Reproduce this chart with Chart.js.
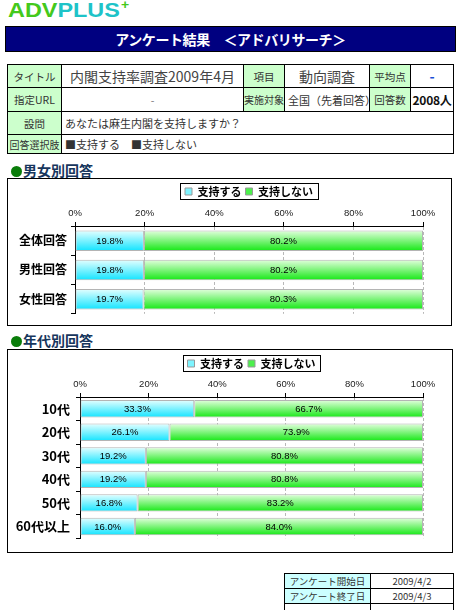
<!DOCTYPE html>
<html lang="ja">
<head>
<meta charset="utf-8">
<script src="https://cdn.jsdelivr.net/npm/chart.js@4.4.1/dist/chart.umd.min.js"></script>
<style>
* { box-sizing: border-box; }
body { margin:0; width:460px; height:610px; overflow:hidden; background:#fff; position:relative;
  font-family:"Noto Sans CJK JP", sans-serif; color:#222; }
.abs { position:absolute; }

/* ── HEADER ── */
#logo { left:8px; top:0; height:20px; font:bold 20px/20px "Liberation Sans", sans-serif;
  transform:scaleX(1.17); transform-origin:0 0; white-space:nowrap; }
#logo .a { color:#44c91c; }
#logo .p { color:#1ec3c8; }
#logo .plus { color:#44c91c; font-size:12px; position:relative; top:-8px; margin-left:1px; }
#banner { left:5px; top:26px; width:451px; height:26px; background:#000080; border:1px solid #000;
  color:#fff; font-weight:bold; font-size:14px; line-height:24px; text-align:center; letter-spacing:-0.4px; }

/* ── INFO TABLE ── */
table { border-collapse:collapse; table-layout:fixed; }
td { border:1px solid #000; padding:0; font-size:10.5px; color:#333; white-space:nowrap; overflow:hidden; }
td.lb { background:#ccffcc; text-align:center; }
#info { left:7px; top:64px; width:446px; }
#info td.big { font-size:14px; text-align:center; color:#444; }
#info td.txt { padding-left:3px; }

/* ── SECTIONS ── */
.sec { left:11px; height:16px; font-size:14px; font-weight:bold; color:#17365d; line-height:16px; }
.sec i { display:inline-block; width:11px; height:11px; border-radius:50%; background:#0a7d0a;
  vertical-align:-1px; margin-right:1px; }
.box { left:7px; border:1px solid #000; overflow:hidden; }
.box canvas { position:absolute; left:0; top:0; }

#dates { left:284px; top:573px; width:169px; }
#dates td { height:15px; font-size:9.5px; text-align:center; }
#dates td.lb { background:#ccffff; }
</style>
</head>
<body>

<div id="logo" class="abs"><span class="a">ADV</span><span class="p">PLUS</span><span class="plus">+</span></div>
<div id="banner" class="abs">アンケート結果　＜アドバリサーチ＞</div>

<table id="info" class="abs">
  <colgroup><col style="width:54px"><col style="width:182px"><col style="width:41px"><col style="width:85px"><col style="width:41px"><col style="width:43px"></colgroup>
  <tr style="height:23px"><td class="lb">タイトル</td><td class="big">内閣支持率調査2009年4月</td><td class="lb">項目</td><td class="big">動向調査</td><td class="lb">平均点</td><td class="big" style="color:#1a4fd6;font-weight:bold">-</td></tr>
  <tr style="height:24px"><td class="lb">指定URL</td><td style="text-align:center;color:#777">-</td><td class="lb" style="font-size:10px">実施対象</td><td class="txt" style="font-size:11px">全国（先着回答）</td><td class="lb">回答数</td><td style="text-align:center;font-weight:bold;font-size:12px;color:#111;letter-spacing:-0.3px">2008人</td></tr>
  <tr style="height:23px"><td class="lb">設問</td><td class="txt" colspan="5" style="font-size:11px">あなたは麻生内閣を支持しますか？</td></tr>
  <tr style="height:19px"><td class="lb" style="font-size:10px">回答選択肢</td><td class="txt" colspan="5" style="font-size:11px">■支持する　■支持しない</td></tr>
</table>

<div class="abs sec" style="top:162px"><i></i>男女別回答</div>
<div class="abs box" style="top:178px;width:445px;height:148px"><canvas id="genderChart" width="443" height="146"></canvas></div>

<div class="abs sec" style="top:332px"><i></i>年代別回答</div>
<div class="abs box" style="top:349px;width:446px;height:204px"><canvas id="ageChart" width="444" height="202"></canvas></div>

<table id="dates" class="abs">
  <colgroup><col style="width:86px"><col style="width:83px"></colgroup>
  <tr><td class="lb">アンケート開始日</td><td>2009/4/2</td></tr>
  <tr><td class="lb">アンケート終了日</td><td>2009/4/3</td></tr>
  <tr><td></td><td></td></tr>
</table>

<script>
/* ── DATA ── */
const seriesNames  = ["支持する", "支持しない"];
const genderLabels = ["全体回答", "男性回答", "女性回答"];
const genderYes    = [19.8, 19.8, 19.7];
const genderNo     = [80.2, 80.2, 80.3];
const ageLabels    = ["10代", "20代", "30代", "40代", "50代", "60代以上"];
const ageYes       = [33.3, 26.1, 19.2, 19.2, 16.8, 16.0];
const ageNo        = [66.7, 73.9, 80.8, 80.8, 83.2, 84.0];
const pctTicks     = [0, 20, 40, 60, 80, 100];

/* ── STYLE ── */
const CYAN  = ["#e6ffff", "#12e4ff"];
const GREEN = ["#e4ffdf", "#16e816"];
const SMALL = { family: "'Liberation Sans', sans-serif", size: 9.5 };

// vertical gradient per bar (pale top, strong bottom)
function barFill(colors, pct) {
  return c => {
    const ch = c.chart, y = ch.scales.y;
    if (!ch.chartArea || !y || c.dataIndex == null) return colors[1];
    const half = y.height / ch.data.labels.length * pct / 2;
    const cy = y.getPixelForValue(c.dataIndex);
    const g = ch.ctx.createLinearGradient(0, cy - half, 0, cy + half);
    g.addColorStop(0, colors[0]); g.addColorStop(1, colors[1]);
    return g;
  };
}

/* ── PLUGINS ── */
const barValues = {
  id: "barValues",
  afterDatasetsDraw(chart) {
    const ctx = chart.ctx;
    ctx.save();
    ctx.font = `${SMALL.size}px ${SMALL.family}`;
    ctx.fillStyle = "#000"; ctx.textAlign = "center"; ctx.textBaseline = "middle";
    chart.data.datasets.forEach((ds, i) => {
      chart.getDatasetMeta(i).data.forEach((bar, j) => {
        const { x, base, y } = bar.getProps(["x", "base", "y"], true);
        ctx.fillText(ds.data[j].toFixed(1) + "%", (x + base) / 2, y + 0.5);
      });
    });
    ctx.restore();
  }
};

// legend centred on the plot area (not the whole canvas), with a black frame
const legendFrame = {
  id: "legendFrame",
  afterLayout(chart) {
    const lg = chart.legend, ca = chart.chartArea;
    if (!lg) return;
    lg.left = ca.left; lg.right = ca.right; lg.width = ca.right - ca.left;
  },
  afterDraw(chart) {
    const hb = chart.legend && chart.legend.legendHitBoxes;
    if (!hb || !hb.length) return;
    const last = hb[hb.length - 1];
    const l = Math.round(hb[0].left - 5) + 0.5, r = Math.round(last.left + last.width + 5) + 0.5;
    const t = Math.round(hb[0].top - 3) + 0.5, b = Math.round(hb[0].top + hb[0].height + 2) + 0.5;
    const ctx = chart.ctx;
    ctx.save(); ctx.strokeStyle = "#000"; ctx.lineWidth = 1;
    ctx.strokeRect(l, t, r - l, b - t);
    ctx.restore();
  }
};

function makeStackChart(canvasId, labels, yes, no, o) {
  const ctx = document.getElementById(canvasId).getContext("2d");
  const common = { barPercentage: o.bar, categoryPercentage: 1, borderColor: "#b4b4b4", borderWidth: 1, borderSkipped: false };
  return new Chart(ctx, {
    type: "bar",
    data: {
      labels,
      datasets: [
        { label: seriesNames[0], data: yes, backgroundColor: barFill(CYAN, o.bar), ...common },
        { label: seriesNames[1], data: no, backgroundColor: barFill(GREEN, o.bar), ...common }
      ]
    },
    options: {
      indexAxis: "y", responsive: false, animation: false, devicePixelRatio: 1,
      layout: { padding: { left: 0, right: o.right, top: o.top, bottom: o.bottom } },
      plugins: {
        tooltip: { enabled: false },
        legend: {
          position: "top",
          labels: {
            boxWidth: 7, boxHeight: 7, padding: 4, color: "#000",
            font: { family: "'Noto Sans CJK JP', sans-serif", size: 11, weight: "bold" },
            generateLabels: () => [
              { text: seriesNames[0], fillStyle: "#7ef4ff", strokeStyle: "#999", lineWidth: 1, datasetIndex: 0 },
              { text: seriesNames[1], fillStyle: "#4cf04c", strokeStyle: "#999", lineWidth: 1, datasetIndex: 1 }
            ]
          }
        }
      },
      scales: {
        x: {
          position: "top", stacked: true, min: 0, max: 100,
          afterBuildTicks: s => { s.ticks = pctTicks.map(v => ({ value: v })); },
          afterFit: s => { s.height = o.plotTop - o.top - s.chart.legend.height; },
          ticks: { callback: v => v + "%", color: "#222", font: SMALL, padding: 3, maxRotation: 0 },
          grid: { color: "#b8b8b8", tickColor: "#000", tickLength: 4 },
          border: { color: "#000", dash: [3, 2] }
        },
        y: {
          stacked: true,
          afterFit: s => { s.width = o.axisLeft; },
          ticks: { color: "#000", font: o.labelFont, padding: o.labelPad },
          grid: { drawOnChartArea: false, tickColor: "#000", tickLength: 4 },
          border: { color: "#000" }
        }
      }
    },
    plugins: [barValues, legendFrame]
  });
}

makeStackChart("genderChart", genderLabels, genderYes, genderNo, {
  bar: 0.7, right: 28, top: 3, bottom: 8, plotTop: 47, axisLeft: 67, labelPad: 4,
  labelFont: { family: "'Noto Sans CJK JP', sans-serif", size: 12, weight: "bold" }
});
makeStackChart("ageChart", ageLabels, ageYes, ageNo, {
  bar: 0.74, right: 29, top: 4, bottom: 9, plotTop: 47, axisLeft: 72, labelPad: 6,
  labelFont: { family: "'Noto Sans CJK JP', sans-serif", size: 13, weight: "bold" }
});
</script>
</body>
</html>
